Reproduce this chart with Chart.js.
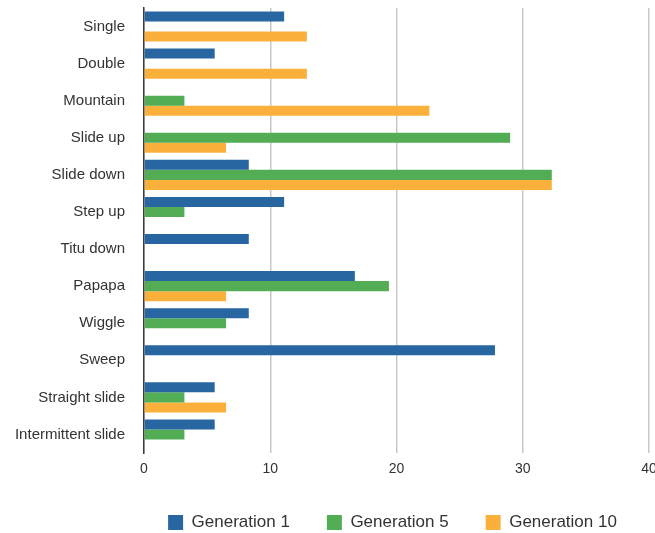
<!DOCTYPE html>
<html>
<head>
<meta charset="utf-8">
<script src="https://cdn.jsdelivr.net/npm/chart.js@4/dist/chart.umd.min.js"></script>
<style>
  html, body { margin: 0; padding: 0; background: #fff; overflow: hidden; }
  #wrap { position: relative; width: 655px; height: 533px; }
</style>
</head>
<body>
<div id="wrap"><canvas id="c" width="655" height="533"></canvas></div>
<script>
// Gesture categories and the share (%) of each generation using them
const categories = ["Single", "Double", "Mountain", "Slide up", "Slide down", "Step up",
  "Titu down", "Papapa", "Wiggle", "Sweep", "Straight slide", "Intermittent slide"];
const generation1 = [11.1, 5.6, 0, 0, 8.3, 11.1, 8.3, 16.7, 8.3, 27.8, 5.6, 5.6];
const generation5 = [0, 0, 3.2, 29.0, 32.3, 3.2, 0, 19.4, 6.5, 0, 3.2, 3.2];
const generation10 = [12.9, 12.9, 22.6, 6.5, 32.3, 0, 0, 6.5, 0, 0, 6.5, 0];
const seriesNames = ["Generation 1", "Generation 5", "Generation 10"];
const xTicks = [0, 10, 20, 30, 40];

const FONT = "'Liberation Sans', Arial, Helvetica, sans-serif";
const colors = ["#2866a2", "#52ad55", "#fbb03b"];

// Center the legend row under the plot area rather than the whole canvas
const centerLegendOnPlot = {
  id: "centerLegendOnPlot",
  afterLayout(chart) {
    const lg = chart.legend, ca = chart.chartArea;
    if (!lg) return;
    const d = (ca.left + ca.right) / 2 - (lg.left + lg.right) / 2 - 4;
    lg.left += d;
    lg.right += d;
  }
};

new Chart(document.getElementById("c"), {
  type: "bar",
  data: {
    labels: categories,
    datasets: [generation1, generation5, generation10].map((d, i) => ({
      label: seriesNames[i],
      data: d,
      backgroundColor: colors[i],
      borderWidth: 0,
      categoryPercentage: 0.81,
      barPercentage: 1.0
    }))
  },
  plugins: [centerLegendOnPlot],
  options: {
    indexAxis: "y",
    responsive: false,
    animation: false,
    layout: { padding: { left: 0, right: 6, top: 8, bottom: -8 } },
    plugins: {
      tooltip: { enabled: false },
      legend: {
        position: "bottom",
        labels: {
          font: { family: FONT, size: 17 },
          color: "#333",
          boxWidth: 15,
          boxHeight: 15,
          padding: 37
        }
      }
    },
    scales: {
      x: {
        min: 0,
        max: 40,
        afterBuildTicks: s => { s.ticks = xTicks.map(v => ({ value: v })); },
        afterFit: s => { s.paddingRight = 0; s.paddingLeft = 0; s.height = 24; },
        grid: { color: "#c8c8c8", lineWidth: 1.5, drawTicks: false },
        border: { display: false },
        ticks: { font: { family: FONT, size: 14 }, color: "#333", padding: 8, maxRotation: 0 }
      },
      y: {
        afterFit: s => { s.width = 144; s.paddingTop = 0; s.paddingBottom = 0; },
        grid: { display: false },
        border: { display: true, color: "#3a3a3a", width: 1.5 },
        ticks: { font: { family: FONT, size: 15 }, color: "#333", padding: 11, autoSkip: false }
      }
    }
  }
});
</script>
</body>
</html>
